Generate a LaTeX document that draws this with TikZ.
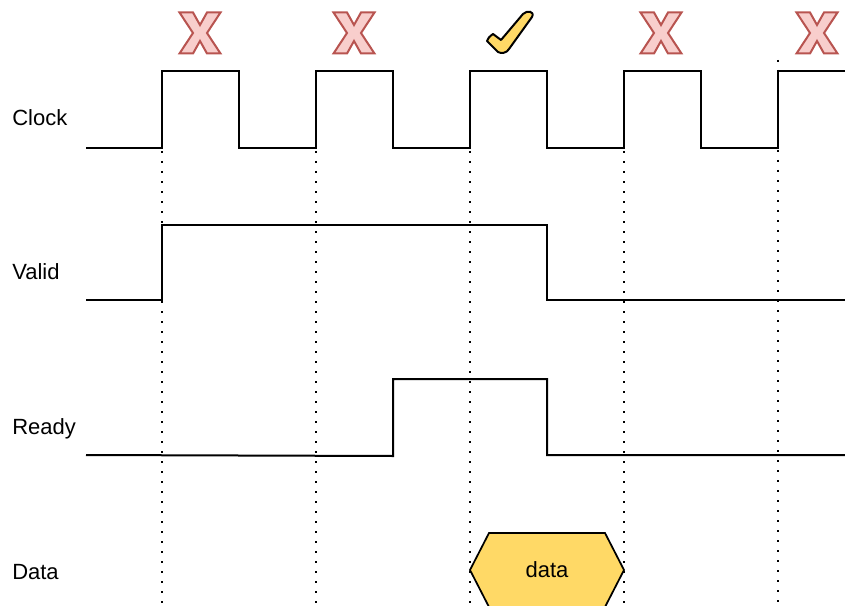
\documentclass[tikz,border=0pt]{standalone}
\usepackage{fontspec}
\setmainfont{Liberation Sans}
\usetikzlibrary{positioning}
\definecolor{nopefill}{HTML}{F8CECC}
\definecolor{nopeline}{HTML}{B85450}
\definecolor{datafill}{HTML}{FFD966}

\begin{document}
\begin{tikzpicture}[
  x=0.75pt, y=-0.75pt,
  every node/.style={font=\fontsize{16.5}{19}\selectfont},
  lbl/.style={anchor=base west, inner sep=0pt},
  wave/.style={draw=black, line width=1.5pt},
  edge/.style={draw=black, line width=1.3pt, dash pattern=on 1.3pt off 6.2pt},
  nope/.style={draw=nopeline, fill=nopefill, line width=1.5pt},
  yes/.style={draw=black, fill=datafill, line width=1.5pt, line join=round},
  bus/.style={draw=black, fill=datafill, line width=1.3pt}
]
\useasboundingbox (0,0) rectangle (845,606);

% Signal names
\node[lbl] (clk) at (12,126) {Clock};
\node[lbl] (vld) at (12,279) {Valid};
\node[lbl] (rdy) at (12,434) {Ready};
\node[lbl] (dat) at (12,579) {Data};

% Rising edges
\foreach \x in {162,316,470,624}
  \draw[edge] (\x,71) -- (\x,606);
\draw[edge] (778,60) -- (778,606);

% Clock
\draw[wave] (86,148) -| (162,71) -| (239,148) -| (316,71) -| (393,148) -| (470,71)
  -| (547,148) -| (624,71) -| (701,148) -| (778,71) -- (845,71);

% Valid
\draw[wave] (86,300) -| (162,225) -| (547,300) -- (845,300);

% Ready
\draw[wave] (86,455) -- (393,456) -- (393,379) -| (547,455) -- (845,455);

% Data on the bus
\draw[bus] (470,570) -- (489,533) -- (605,533) -- (624,570) -- (605,607) -- (489,607) -- cycle;
\node (data) at (547,570) {data};

% Handshake result per edge
\foreach \cx in {200,354,661,817}
  \draw[nope, shift={(\cx,33)}] (-20.5,-20.5) -- (-7,-20.5) -- (0,-8) -- (7,-20.5) -- (20.5,-20.5)
    -- (7,0) -- (20.5,20.5) -- (7,20.5) -- (0,8) -- (-7,20.5) -- (-20.5,20.5) -- (-7,0) -- cycle;
\draw[yes] (487,41) .. controls (489,37) .. (493,34) -- (501,40) -- (523,14)
  .. controls (527,10) and (535,11) .. (532,17) -- (509,49)
  .. controls (507,53) and (501,54) .. (498,52) -- cycle;
\end{tikzpicture}
\end{document}
